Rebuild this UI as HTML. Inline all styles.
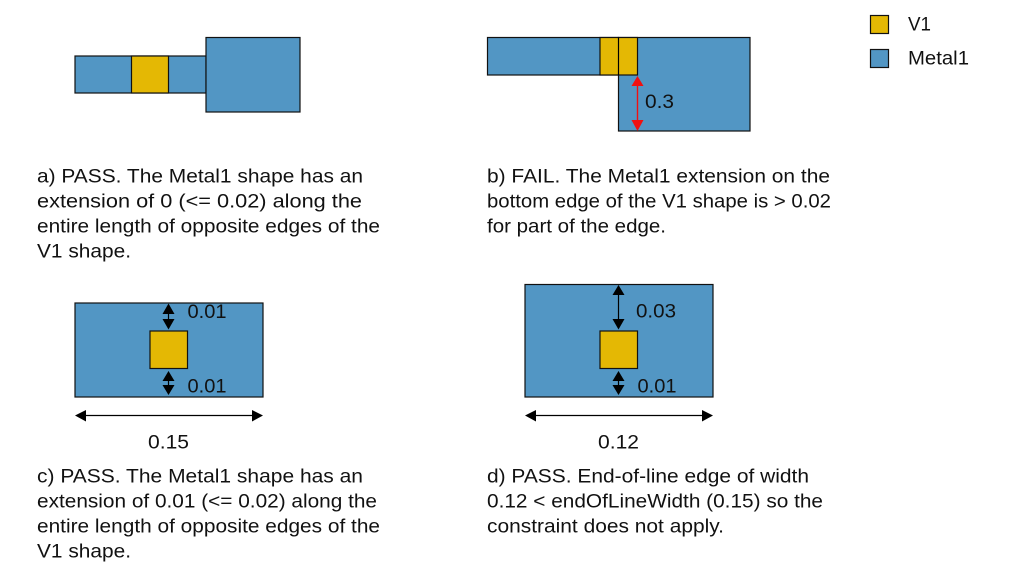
<!DOCTYPE html>
<html><head><meta charset="utf-8"><style>
html,body{margin:0;padding:0;background:#fff;width:1013px;height:579px;overflow:hidden}
svg{display:block}
text{font-family:"Liberation Sans",Arial,sans-serif;font-size:19.5px;fill:#111}
.m{fill:#5296c4;stroke:#111;stroke-width:1.2}
.v{fill:#e4b804;stroke:#111;stroke-width:1.2}
.l{stroke:#000;stroke-width:1.2;fill:none}
</style></head><body>
<svg width="1013" height="579" viewBox="0 0 1013 579" xmlns="http://www.w3.org/2000/svg">
<!-- legend -->
<rect class="v" x="870.5" y="15.5" width="18" height="18"/>
<rect class="m" x="870.5" y="49.5" width="18" height="18"/>
<text x="908" y="30.5" textLength="23" lengthAdjust="spacingAndGlyphs">V1</text>
<text x="908" y="64.5" textLength="61" lengthAdjust="spacingAndGlyphs">Metal1</text>

<!-- a -->
<rect class="m" x="75" y="56" width="131" height="37"/>
<rect class="v" x="131.5" y="56" width="37" height="37"/>
<rect class="m" x="206" y="37.5" width="94" height="74.5"/>

<!-- b -->
<rect class="m" x="618.5" y="37.5" width="131.5" height="93.5"/>
<rect class="m" x="487.5" y="37.5" width="131" height="37.5"/>
<rect class="v" x="600" y="37.5" width="37.5" height="37.5"/>
<line class="l" x1="618.5" y1="37.5" x2="618.5" y2="75"/>
<line x1="637.5" y1="82" x2="637.5" y2="124" stroke="#f01010" stroke-width="1.4"/>
<polygon points="637.5,76 631.5,86 643.5,86" fill="#f01010"/>
<polygon points="637.5,131 631.5,120 643.5,120" fill="#f01010"/>
<text x="645" y="108" textLength="29" lengthAdjust="spacingAndGlyphs">0.3</text>

<!-- c -->
<rect class="m" x="75" y="303" width="188" height="94"/>
<rect class="v" x="150" y="331" width="37.5" height="37.5"/>
<line class="l" x1="168.5" y1="308" x2="168.5" y2="326"/>
<polygon points="168.5,303.5 162.5,314 174.5,314"/>
<polygon points="168.5,329.5 162.5,319 174.5,319"/>
<line class="l" x1="168.5" y1="375" x2="168.5" y2="392"/>
<polygon points="168.5,371 162.5,381 174.5,381"/>
<polygon points="168.5,395 162.5,385 174.5,385"/>
<text x="187.5" y="318" textLength="39" lengthAdjust="spacingAndGlyphs">0.01</text>
<text x="187.5" y="392.5" textLength="39" lengthAdjust="spacingAndGlyphs">0.01</text>
<line class="l" x1="80" y1="415.5" x2="258" y2="415.5"/>
<polygon points="75,415.5 86,410 86,421.5"/>
<polygon points="263,415.5 252,410 252,421.5"/>
<text x="148" y="448.5" textLength="41" lengthAdjust="spacingAndGlyphs">0.15</text>

<!-- d -->
<rect class="m" x="525" y="284.5" width="188" height="112.5"/>
<rect class="v" x="600" y="331" width="37.5" height="37.5"/>
<line class="l" x1="618.5" y1="289" x2="618.5" y2="326"/>
<polygon points="618.5,285 612.5,295 624.5,295"/>
<polygon points="618.5,329.5 612.5,319 624.5,319"/>
<line class="l" x1="618.5" y1="375" x2="618.5" y2="392"/>
<polygon points="618.5,371 612.5,381 624.5,381"/>
<polygon points="618.5,395 612.5,385 624.5,385"/>
<text x="636" y="317.5" textLength="40" lengthAdjust="spacingAndGlyphs">0.03</text>
<text x="637.5" y="392.5" textLength="39" lengthAdjust="spacingAndGlyphs">0.01</text>
<line class="l" x1="530" y1="415.5" x2="708" y2="415.5"/>
<polygon points="525,415.5 536,410 536,421.5"/>
<polygon points="713,415.5 702,410 702,421.5"/>
<text x="598" y="448.5" textLength="41" lengthAdjust="spacingAndGlyphs">0.12</text>

<!-- captions -->
<text x="37" y="182.5" textLength="326" lengthAdjust="spacingAndGlyphs">a) PASS. The Metal1 shape has an</text>
<text x="37" y="207.5" textLength="325" lengthAdjust="spacingAndGlyphs">extension of 0 (&lt;= 0.02) along the</text>
<text x="37" y="232.5" textLength="343" lengthAdjust="spacingAndGlyphs">entire length of opposite edges of the</text>
<text x="37" y="257.5" textLength="94" lengthAdjust="spacingAndGlyphs">V1 shape.</text>

<text x="487" y="182.5" textLength="343" lengthAdjust="spacingAndGlyphs">b) FAIL. The Metal1 extension on the</text>
<text x="487" y="207.5" textLength="344" lengthAdjust="spacingAndGlyphs">bottom edge of the V1 shape is &gt; 0.02</text>
<text x="487" y="232.5" textLength="179" lengthAdjust="spacingAndGlyphs">for part of the edge.</text>

<text x="37" y="482.5" textLength="326" lengthAdjust="spacingAndGlyphs">c) PASS. The Metal1 shape has an</text>
<text x="37" y="507.5" textLength="340" lengthAdjust="spacingAndGlyphs">extension of 0.01 (&lt;= 0.02) along the</text>
<text x="37" y="532.5" textLength="343" lengthAdjust="spacingAndGlyphs">entire length of opposite edges of the</text>
<text x="37" y="557.5" textLength="94" lengthAdjust="spacingAndGlyphs">V1 shape.</text>

<text x="487" y="482.5" textLength="322" lengthAdjust="spacingAndGlyphs">d) PASS. End-of-line edge of width</text>
<text x="487" y="507.5" textLength="336" lengthAdjust="spacingAndGlyphs">0.12 &lt; endOfLineWidth (0.15) so the</text>
<text x="487" y="532.5" textLength="237" lengthAdjust="spacingAndGlyphs">constraint does not apply.</text>
</svg>
</body></html>
